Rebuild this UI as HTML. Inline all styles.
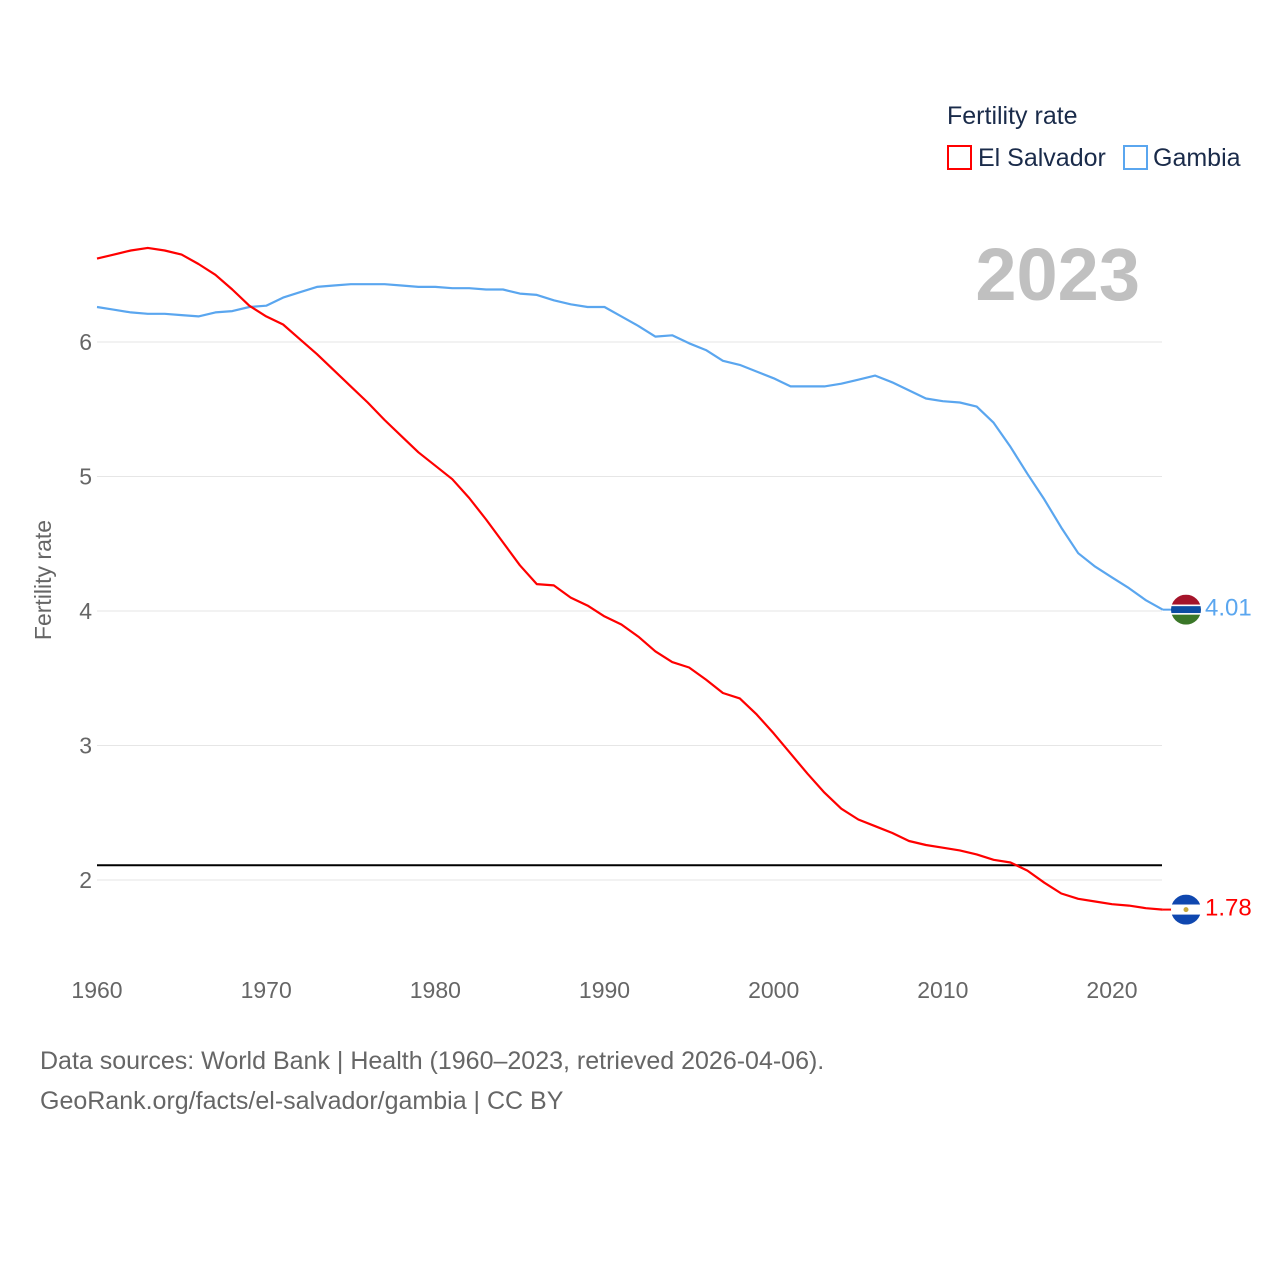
<!DOCTYPE html>
<html><head><meta charset="utf-8">
<style>
body{margin:0;background:#fff;width:1280px;height:1280px;overflow:hidden;font-family:"Liberation Sans",sans-serif}
</style></head>
<body>
<svg id="chart" width="1280" height="1280" xmlns="http://www.w3.org/2000/svg" font-family="Liberation Sans, sans-serif">
<text x="947" y="124" font-size="25" fill="#1a2b4a">Fertility rate</text>
<rect x="948" y="146" width="23" height="23" fill="none" stroke="#ff0000" stroke-width="2"/>
<text x="978" y="166" font-size="25" fill="#1a2b4a">El Salvador</text>
<rect x="1124" y="146" width="23" height="23" fill="none" stroke="#5aa6ef" stroke-width="2"/>
<text x="1153" y="166" font-size="25" fill="#1a2b4a">Gambia</text>
<text x="1140" y="300" font-size="74" font-weight="bold" fill="#c0c0c0" text-anchor="end">2023</text>
<text transform="translate(51,580) rotate(-90)" font-size="23" fill="#666" text-anchor="middle">Fertility rate</text>
<g id="grid"></g><g id="series"></g>
<text x="40" y="1069" font-size="25" fill="#666">Data sources: World Bank | Health (1960–2023, retrieved 2026-04-06).</text>
<text x="40" y="1109" font-size="25" fill="#666">GeoRank.org/facts/el-salvador/gambia | CC BY</text>
</svg>
<script>
const years=[];for(let y=1960;y<=2023;y++)years.push(y);
const elSalvador=[6.62,6.65,6.68,6.70,6.68,6.65,6.58,6.50,6.39,6.27,6.19,6.13,6.02,5.91,5.79,5.67,5.55,5.42,5.30,5.18,5.08,4.98,4.84,4.68,4.51,4.34,4.20,4.19,4.10,4.04,3.96,3.90,3.81,3.70,3.62,3.58,3.49,3.39,3.35,3.23,3.09,2.94,2.79,2.65,2.53,2.45,2.40,2.35,2.29,2.26,2.24,2.22,2.19,2.15,2.13,2.07,1.98,1.90,1.86,1.84,1.82,1.81,1.79,1.78];
const gambia=[6.26,6.24,6.22,6.21,6.21,6.20,6.19,6.22,6.23,6.26,6.27,6.33,6.37,6.41,6.42,6.43,6.43,6.43,6.42,6.41,6.41,6.40,6.40,6.39,6.39,6.36,6.35,6.31,6.28,6.26,6.26,6.19,6.12,6.04,6.05,5.99,5.94,5.86,5.83,5.78,5.73,5.67,5.67,5.67,5.69,5.72,5.75,5.70,5.64,5.58,5.56,5.55,5.52,5.40,5.22,5.02,4.83,4.62,4.43,4.33,4.25,4.17,4.08,4.01];
const yTicks=[2,3,4,5,6];
const xTicks=[1960,1970,1980,1990,2000,2010,2020];
const refLine=2.11;
const NS='http://www.w3.org/2000/svg';
const xs=y=>97+(y-1960)*(1015/60);
const ys=v=>880-(v-2)*134.5;
function mk(t,a,p){const e=document.createElementNS(NS,t);for(const k in a)e.setAttribute(k,a[k]);p.appendChild(e);return e;}
const g=document.getElementById('grid'),s=document.getElementById('series');
yTicks.forEach(v=>{
 const l=mk('line',{x1:97,x2:1162,y1:ys(v),y2:ys(v),stroke:'#e6e6e6','stroke-width':1},g);
 
 
 const t=mk('text',{x:92,y:ys(v)+8,'font-size':23,fill:'#666','text-anchor':'end'},g);t.textContent=v;
 
 
});
xTicks.forEach(v=>{
 const t=mk('text',{x:xs(v),y:998,'font-size':23,fill:'#666','text-anchor':'middle'},g);t.textContent=v;
 
 
});
const rl=mk('line',{x1:97,x2:1162,y1:ys(refLine),y2:ys(refLine),stroke:'#000','stroke-width':2},g);


function series(vals,color,name){
 const d=vals.map((v,i)=>(i?'L':'M')+xs(years[i]).toFixed(1)+','+ys(v).toFixed(1)).join('');
 const p=mk('path',{d:d,fill:'none',stroke:color,'stroke-width':2.2,'stroke-linejoin':'round'},s);
 
 
 const last=vals[vals.length-1],lx=xs(years[years.length-1]),ly=ys(last);
 const c=mk('line',{x1:lx,x2:1175,y1:ly,y2:ly,stroke:color,'stroke-width':2},s);
 
 
 const t=mk('text',{x:1205,y:ly+6,'font-size':24,fill:color},s);t.textContent=last.toFixed(2);
 
 
 return ly;
}
const gy=series(gambia,'#5aa6ef','gambia');
const ey=series(elSalvador,'#ff0000','el-salvador');
function flag(cy,stripes,name){
 const cid='clip-'+name;
 const cp=mk('clipPath',{id:cid},s);mk('circle',{cx:1186,cy:cy,r:15},cp);
 const fg=mk('g',{'clip-path':'url(#'+cid+')'},s);
 
 
 let y0=cy-15;stripes.forEach(([h,c])=>{mk('rect',{x:1171,y:y0,width:30,height:h,fill:c},fg);y0+=h;});
}
flag(gy,[[10,'#a5142a'],[1.5,'#fff'],[7,'#0c4da2'],[1.5,'#fff'],[10,'#3a7728']],'gambia');
flag(ey,[[10,'#0f47af'],[10,'#fff'],[10,'#0f47af']],'el-salvador');
mk('circle',{cx:1186,cy:ey,r:2.5,fill:'#c9a93a'},s);
</script>
</body></html>
